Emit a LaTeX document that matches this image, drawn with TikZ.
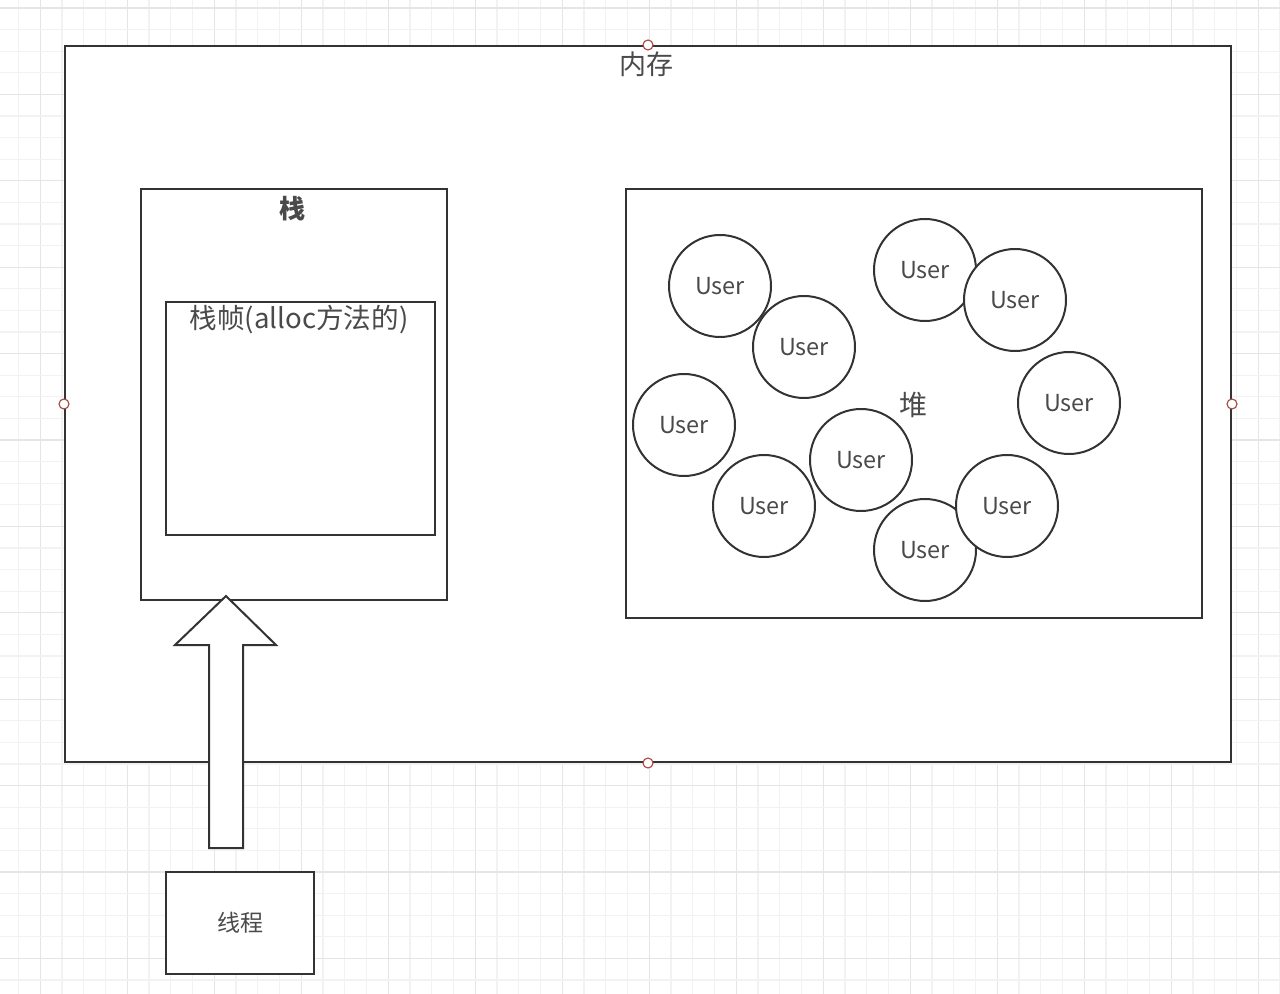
\documentclass[tikz,border=0pt]{standalone}
\usepackage{fontspec}
\setmainfont{Noto Sans CJK SC}
\usetikzlibrary{positioning}
\definecolor{linegray}{HTML}{333333}
\definecolor{textgray}{HTML}{4A4A4A}
\definecolor{gridminor}{HTML}{F2F2F2}
\definecolor{gridmajor}{HTML}{E5E5E5}
\definecolor{handlered}{HTML}{A8433F}
\tikzset{
  box/.style={rectangle, draw=linegray, fill=white, line width=1pt, inner sep=0pt, anchor=north west},
  userball/.style={circle, draw=linegray, fill=white, line width=1pt, minimum size=51pt, inner sep=0pt, text=textgray, font=\fontsize{11.7}{13}\selectfont},
  lbl/.style={inner sep=0pt, text=textgray},
  handle/.style={circle, draw=handlered, fill=white, line width=0.55pt, minimum size=5pt, inner sep=0pt}
}

\begin{document}
\begin{tikzpicture}[x=0.5pt, y=-0.5pt]
\useasboundingbox (0,0) rectangle (1280,994);
\fill[white] (0,0) rectangle (1280,994);
\foreach \k in {0,...,58}
{
        \pgfmathsetmacro{\gx}{18.5 + 21.75 * \k} ;
        \pgfmathtruncatemacro{\m}{mod(\k,4)} ;
        \ifnum\m=1 \draw[gridmajor, line width=0.6pt] (\gx,0) -- (\gx,994) ;
        \else \draw[gridminor, line width=0.6pt] (\gx,0) -- (\gx,994) ; \fi
}
\foreach \k in {0,...,45}
{
        \pgfmathsetmacro{\gy}{8 + 21.6 * \k} ;
        \pgfmathtruncatemacro{\m}{mod(\k,4)} ;
        \ifnum\m=0 \draw[gridmajor, line width=0.6pt] (0,\gy) -- (1280,\gy) ;
        \else \draw[gridminor, line width=0.6pt] (0,\gy) -- (1280,\gy) ; \fi
}

\node[box, minimum width=583pt, minimum height=358pt] (mem) at (64,45) {};
\node[lbl, font=\fontsize{13.5}{15}\selectfont] (memlabel) at (646,64) {内存};

\node[box, minimum width=153pt, minimum height=205.5pt] (stack) at (140,188) {};
\node[lbl, font=\fontsize{13}{15}\selectfont\bfseries] (stacklabel) at (292,209) {栈};
\node[box, minimum width=134.5pt, minimum height=116.5pt] (frame) at (165,301) {};
\node[lbl, font=\fontsize{13.8}{15}\selectfont] (framelabel) at (299,320) {栈帧(alloc方法的)};

\node[box, minimum width=288pt, minimum height=214.5pt] (heap) at (625,188) {};
\node[lbl, font=\fontsize{14}{16}\selectfont] (heaplabel) at (913,405) {堆};

\node[userball] (u1) at (720,286) {User};
\node[userball] (u2) at (804,347) {User};
\node[userball] (u3) at (925,270) {User};
\node[userball] (u4) at (1015,300) {User};
\node[userball] (u5) at (684,425) {User};
\node[userball] (u6) at (1069,403) {User};
\node[userball] (u7) at (764,506) {User};
\node[userball] (u8) at (861,460) {User};
\node[userball] (u9) at (925,550) {User};
\node[userball] (u10) at (1007,506) {User};

\draw[linegray, fill=white, line width=1pt] (226,596) -- (276,645) -- (243,645) -- (243,848)
        -- (209,848) -- (209,645) -- (175,645) -- cycle ;

\node[box, minimum width=74pt, minimum height=51pt, text=textgray, font=\fontsize{11.5}{13}\selectfont] (thread) at (165,871) {线程};

\node[handle] (hn) at (mem.north) {};
\node[handle] (hs) at (mem.south) {};
\node[handle] (hw) at (mem.west) {};
\node[handle] (he) at (mem.east) {};
\end{tikzpicture}
\end{document}
